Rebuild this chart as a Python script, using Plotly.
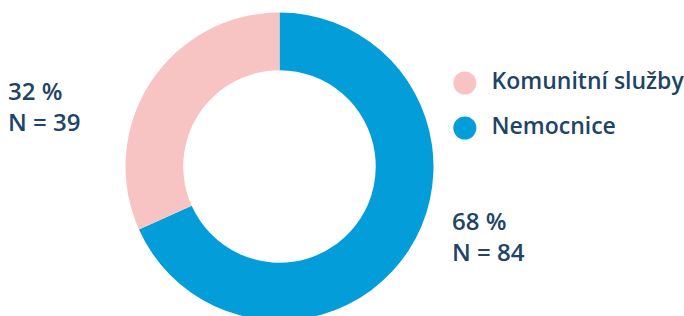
import plotly.graph_objects as go

categories = ["Komunitní služby", "Nemocnice"]
counts = [39, 84]
colors = ["#F7C3C3", "#039DD9"]

W, H = 684, 325
TEXT = "#1E4466"
FONT = "Open Sans"
WEIGHT = 600
FS = 23
FS_ANN = 24

total = sum(counts)
pcts = [round(v / total * 100) for v in counts]
labels_txt = [f"{p} %<br>N = {n}" for p, n in zip(pcts, counts)]

def fx(px):
    return px / W

def fy(py):
    return 1 - py / H

fig = go.Figure()
# Nemocnice drawn first, clockwise from 12 o'clock
fig.add_trace(go.Pie(
    labels=categories[::-1], values=counts[::-1], sort=False, direction="clockwise",
    rotation=0, hole=0.625, textinfo="none", showlegend=False,
    marker=dict(colors=colors[::-1], line=dict(width=0)),
    domain=dict(x=[fx(125.5), fx(433.5)], y=[fy(320.5), fy(12.5)]),
))
# legend drawn as marker + text rows on a category axis
fig.add_trace(go.Scatter(
    x=[0, 0], y=categories, mode="markers",
    marker=dict(size=23, color=colors, line=dict(width=0)),
    showlegend=False, hoverinfo="skip", xaxis="x", yaxis="y", cliponaxis=False,
))
fig.add_trace(go.Scatter(
    x=[1, 1], y=categories, mode="text", text=categories,
    textposition="middle right",
    textfont=dict(size=FS, color=TEXT, family=FONT, weight=WEIGHT),
    showlegend=False, hoverinfo="skip", xaxis="x", yaxis="y", cliponaxis=False,
))

fig.update_layout(
    width=W, height=H, margin=dict(l=0, r=0, t=0, b=0),
    paper_bgcolor="white", plot_bgcolor="rgba(0,0,0,0)",
    font=dict(family=FONT, size=FS, color=TEXT),
    xaxis=dict(domain=[fx(451.5), fx(491.5)], range=[-0.5, 1], visible=False, fixedrange=True),
    yaxis=dict(domain=[fy(150.5), fy(60.5)], range=[1.5, -0.5], type="category",
               categoryorder="array", categoryarray=categories, visible=False, fixedrange=True),
    annotations=[
        dict(text=labels_txt[0], xref="paper", yref="paper", x=fx(6), y=fy(106),
             xanchor="left", yanchor="middle", align="left", showarrow=False,
             font=dict(size=FS_ANN, color=TEXT, family=FONT, weight=WEIGHT)),
        dict(text=labels_txt[1], xref="paper", yref="paper", x=fx(450), y=fy(236),
             xanchor="left", yanchor="middle", align="left", showarrow=False,
             font=dict(size=FS_ANN, color=TEXT, family=FONT, weight=WEIGHT)),
    ],
)

fig.write_html("out.html", config={"displayModeBar": False},
               post_script="document.body.style.margin='0';document.body.style.overflow='hidden';")
